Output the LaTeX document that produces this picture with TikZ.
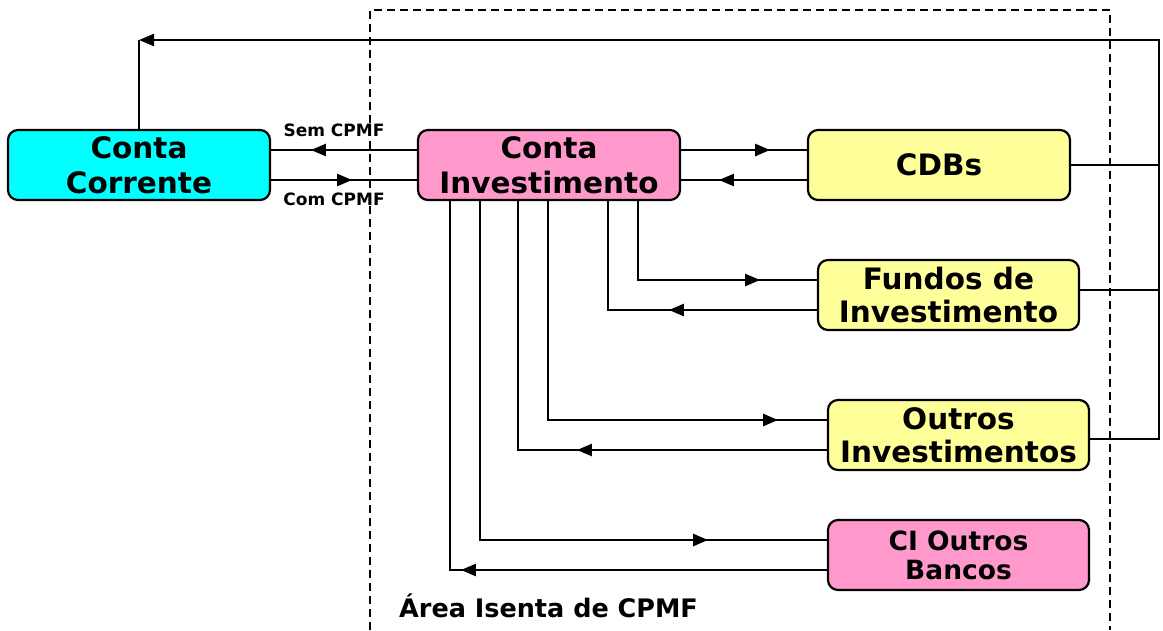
\documentclass[tikz,border=0pt]{standalone}
\usepackage{fontspec}
\setmainfont{DejaVu Sans}
\usetikzlibrary{arrows.meta,decorations.markings,calc}
\definecolor{ccyan}{HTML}{00FFFF}
\definecolor{cpink}{HTML}{FF99CC}
\definecolor{cyell}{HTML}{FFFF99}
\tikzset{
  box/.style={draw=black,line width=2.2pt,rounded corners=10pt,minimum width=261pt,minimum height=70pt,inner sep=0pt,align=center,font=\bfseries\fontsize{29.5}{35}\selectfont},
  conn/.style={line width=2.4pt,line join=miter},
  tip/.style={-{Triangle[length=15pt,width=12pt]}},
  marr/.style={postaction={decorate},decoration={markings,mark=at position #1 with {\arrow{Triangle[length=15pt,width=12pt]}}}},
  lbl/.style={font=\bfseries\fontsize{17}{20}\selectfont,inner sep=0pt},
  zone/.style={dashed,dash pattern=on 8pt off 5pt,line width=1.6pt}
}
\begin{document}
\begin{tikzpicture}[x=1pt,y=-1pt]
\useasboundingbox (0,0) rectangle (1163,630);
\node[box,fill=ccyan,minimum width=262pt] (cc) at (139,165) {Conta\\Corrente};
\node[box,fill=cpink,minimum width=262pt] (ci) at (549,165) {Conta\\Investimento};
\node[box,fill=cyell,minimum width=262pt] (cdb) at (939,165) {CDBs};
\node[box,fill=cyell,font=\bfseries\fontsize{29.5}{33}\selectfont] (fdi) at (948.5,295) {Fundos de\\Investimento};
\node[box,fill=cyell,font=\bfseries\fontsize{29.5}{33}\selectfont] (out) at (958.5,435) {Outros\\Investimentos};
\node[box,fill=cpink,font=\bfseries\fontsize{26.5}{29}\selectfont] (ciob) at (958.5,555) {CI Outros\\Bancos};
% labels
\node[lbl,anchor=base] (sem) at (334,136) {Sem CPMF};
\node[lbl,anchor=base] (com) at (334,205) {Com CPMF};
\node[font=\bfseries\fontsize{25.5}{30}\selectfont,inner sep=0pt,anchor=base west] (area) at (399,617) {Área Isenta de CPMF};
% CC <-> CI
\draw[conn,marr=106pt] ([yshift=15pt]ci.west) -- ([yshift=15pt]cc.east);
\draw[conn,marr=81pt] ([yshift=-15pt]cc.east) -- ([yshift=-15pt]ci.west);
% CI <-> CDB
\draw[conn,marr=89pt] ([yshift=15pt]ci.east) -- ([yshift=15pt]cdb.west);
\draw[conn,marr=88pt] ([yshift=-15pt]cdb.west) -- ([yshift=-15pt]ci.east);
% CI <-> FDI
\draw[conn,marr=201pt] ([xshift=89pt]ci.south) |- ([yshift=15pt]fdi.west);
\draw[conn,marr=148pt] ([yshift=-15pt]fdi.west) -| ([xshift=59pt]ci.south);
% CI <-> OUT
\draw[conn,marr=449pt] ([xshift=-1pt]ci.south) |- ([yshift=15pt]out.west);
\draw[conn,marr=250pt] ([yshift=-15pt]out.west) -| ([xshift=-31pt]ci.south);
% CI <-> CIOB
\draw[conn,marr=567pt] ([xshift=-69pt]ci.south) |- ([yshift=15pt]ciob.west);
\draw[conn,marr=366pt] ([yshift=-15pt]ciob.west) -| ([xshift=-99pt]ci.south);
% return line to CC
\coordinate (rr) at (1159,40);
\coordinate (top) at (cc.north |- rr);
\draw[conn] (cdb.east) -- (cdb.east -| rr);
\draw[conn] ([yshift=5pt]fdi.east) -- ([yshift=5pt]fdi.east -| rr);
\draw[conn,tip] ([yshift=-4pt]out.east) -- ([yshift=-4pt]out.east -| rr) -- (rr) -- (top);
\draw[conn] (top) -- (cc.north);
% exempt area
\draw[zone] (370,630) -- (370,10) -- (1110,10) -- (1110,630);
\end{tikzpicture}
\end{document}
